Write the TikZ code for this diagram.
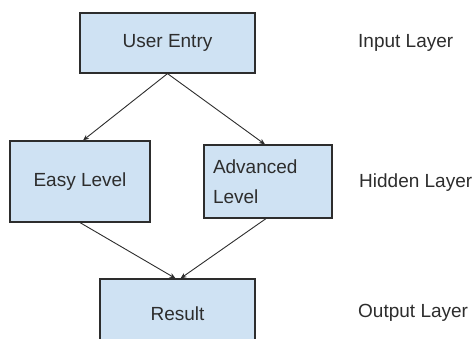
\documentclass[tikz,border=0pt]{standalone}
\usepackage{fontspec}
\setmainfont{Liberation Sans}
\usetikzlibrary{arrows.meta}
\definecolor{boxfill}{RGB}{207,226,243}
\definecolor{ink}{RGB}{45,45,45}
\begin{document}
\begin{tikzpicture}[x=1pt, y=-1pt,
    every node/.style={font=\fontsize{19}{30}\selectfont, text=ink},
    level/.style={draw=ink, fill=boxfill, line width=1.2pt, inner sep=0pt},
    layer/.style={anchor=west, inner sep=0pt},
    link/.style={draw=ink, line width=0.9pt, -{Stealth[length=6pt, width=5pt]}}]
    \useasboundingbox (0,0) rectangle (476,339);
    \clip (0,0) rectangle (476,339);

    \node (a1) at (167.5,43) [level, minimum width=175, minimum height=60] {User Entry};

    \node (b1) at (80,181.5) [level, minimum width=140, minimum height=81] {Easy Level};
    \draw[link] (a1.south) -- ([xshift=3]b1.north);

    \node (b2) at (268,181.5) [level, minimum height=73, text width=110, inner xsep=9, align=left] {Advanced\\Level};
    \draw[link] (a1.south) -- ([xshift=-3]b2.north);

    \node (c1) at (177.5,313.5) [level, minimum width=155, minimum height=69] {Result};
    \draw[link] (b1.south) -- ([xshift=-2]c1.north);
    \draw[link] ([xshift=-2]b2.south) -- ([xshift=3]c1.north);

    % layer names
    \node (l1) at (358,43) [layer] {Input Layer};
    \node (l2) at (359,183) [layer] {Hidden Layer};
    \node (l3) at (358,313) [layer] {Output Layer};
\end{tikzpicture}
\end{document}
